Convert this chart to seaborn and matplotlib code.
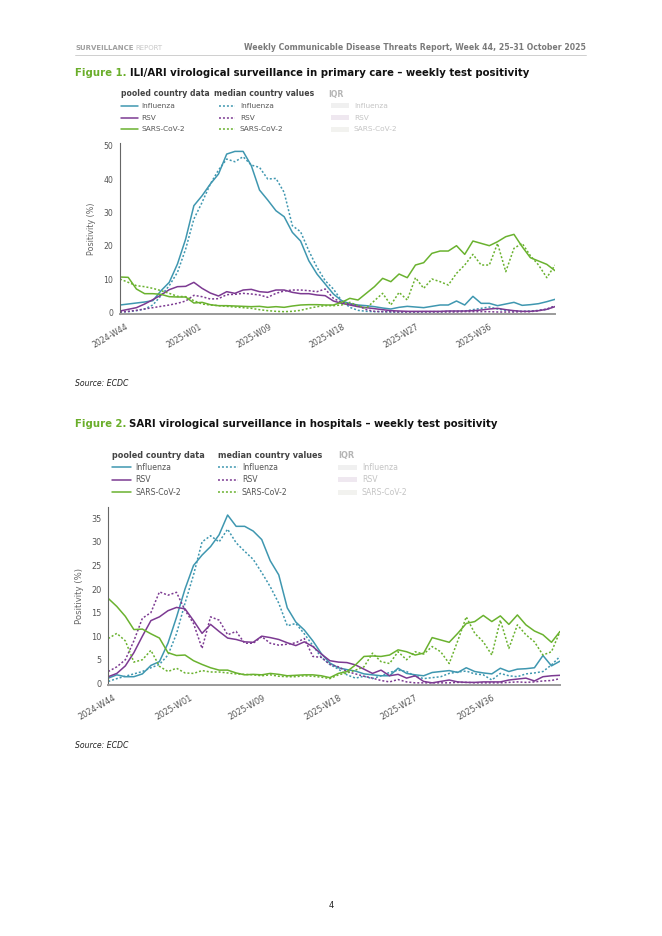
import numpy as np
import pandas as pd
import seaborn as sns
import matplotlib.pyplot as plt
from matplotlib.lines import Line2D
from matplotlib.patches import Rectangle

# --- page size (pixels) ---
W, H = 662, 936

# --- data: weekly test positivity (%), 54 weeks ---
tick_labels = ['2024-W44', '2025-W01', '2025-W09', '2025-W18', '2025-W27', '2025-W36']
tick_pos = [0.6, 9.6, 18.15, 27.0, 36.0, 45.0]
viruses = ['Influenza', 'RSV', 'SARS-CoV-2']

# Figure 1 - ILI/ARI, primary care
ili_flu_pooled = [2.2, 2.5, 2.8, 3.1, 3.5, 6.5, 9.0, 14.5, 22.0, 32.0,
                  35.0, 38.5, 41.5, 47.5, 48.3, 48.3, 44.0, 36.7, 33.7, 30.5,
                  28.7, 24.0, 21.4, 15.5, 11.5, 8.5, 5.5, 3.5, 2.6, 2.2,
                  2.0, 1.7, 1.3, 1.0, 1.5, 1.8, 1.6, 1.4, 1.8, 2.2,
                  2.2, 3.4, 2.2, 4.8, 2.7, 2.7, 2.0, 2.5, 3.0, 2.1,
                  2.3, 2.6, 3.2, 3.9]
ili_flu_median = [0.1, 0.2, 0.5, 1.0, 2.2, 5.0, 8.0, 12.0, 19.0, 28.0,
                  33.0, 38.5, 42.7, 46.0, 45.2, 46.7, 44.2, 43.5, 40.0, 40.2,
                  36.0, 26.0, 24.2, 18.5, 13.5, 9.5, 7.0, 3.5, 1.5, 0.6,
                  0.3, 0.2, 0.2, 0.1, 0.1, 0.2, 0.1, 0.2, 0.2, 0.2,
                  0.3, 0.3, 0.4, 0.8, 1.2, 1.6, 1.0, 0.6, 0.4, 0.3,
                  0.4, 0.6, 0.9, 1.9]
ili_rsv_pooled = [0.4, 0.9, 1.4, 2.5, 3.8, 5.2, 6.8, 7.7, 7.8, 9.0,
                  7.2, 5.8, 4.9, 6.2, 5.7, 6.7, 6.9, 6.2, 6.0, 6.7,
                  6.7, 6.0, 5.6, 5.6, 5.2, 5.0, 3.4, 2.7, 2.2, 1.7,
                  1.4, 1.1, 0.8, 0.5, 0.4, 0.3, 0.3, 0.3, 0.3, 0.3,
                  0.4, 0.4, 0.4, 0.5, 0.7, 1.0, 1.2, 0.8, 0.5, 0.3,
                  0.3, 0.5, 0.9, 1.7]
ili_rsv_median = [0.1, 0.3, 0.6, 1.0, 1.4, 1.8, 2.2, 2.7, 3.4, 5.1,
                  4.7, 4.0, 4.1, 5.3, 5.4, 5.7, 5.5, 5.2, 4.5, 5.7,
                  6.4, 6.7, 6.7, 6.5, 6.2, 7.0, 4.2, 3.0, 2.5, 2.0,
                  0.8, 0.3, 0.2, 0.2, 0.1, 0.1, 0.1, 0.1, 0.1, 0.1,
                  0.1, 0.1, 0.2, 0.2, 0.2, 0.2, 0.1, 0.1, 0.1, 0.2,
                  0.2, 0.5, 1.0, 1.9]
ili_cov_pooled = [10.6, 10.5, 7.0, 5.6, 5.6, 5.4, 4.7, 4.6, 4.6, 2.8,
                  3.0, 2.3, 2.0, 2.0, 1.9, 1.8, 1.7, 1.8, 1.5, 1.7,
                  1.5, 1.9, 2.2, 2.3, 2.3, 2.2, 2.2, 3.0, 4.2, 3.7,
                  5.7, 7.7, 10.2, 9.2, 11.5, 10.4, 14.2, 14.9, 17.7, 18.4,
                  18.4, 20.0, 17.4, 21.4, 20.7, 20.0, 21.2, 22.7, 23.4, 19.7,
                  16.4, 15.4, 14.4, 12.5]
ili_cov_median = [10.0, 9.0, 8.0, 7.7, 7.2, 6.5, 5.7, 4.8, 4.7, 3.5,
                  2.5, 2.2, 2.0, 1.8, 1.6, 1.4, 1.2, 0.8, 0.5, 0.3,
                  0.2, 0.3, 0.6, 1.2, 1.7, 2.0, 2.0, 2.2, 3.0, 2.0,
                  1.2, 3.5, 5.7, 2.2, 6.0, 3.7, 10.4, 7.2, 10.0, 9.2,
                  8.2, 11.7, 14.2, 17.4, 14.2, 14.2, 20.7, 12.2, 19.2, 20.7,
                  17.0, 14.2, 10.4, 14.2]

# Figure 2 - SARI, hospitals
sari_flu_pooled = [1.1, 1.8, 1.4, 1.4, 2.0, 3.8, 4.6, 8.5, 14.0, 20.0,
                   25.0, 27.2, 29.0, 31.5, 35.7, 33.3, 33.3, 32.3, 30.5, 26.0,
                   23.0, 16.0, 13.0, 11.3, 9.0, 6.3, 4.3, 3.3, 2.9, 2.6,
                   2.0, 1.8, 1.6, 1.6, 3.2, 2.1, 1.8, 1.6, 2.3, 2.5,
                   2.7, 2.3, 3.3, 2.5, 2.2, 2.0, 3.2, 2.5, 3.0, 3.1,
                   3.3, 5.9, 3.7, 4.7]
sari_flu_median = [0.4, 1.0, 1.5, 2.0, 2.5, 3.3, 4.0, 6.0, 10.5, 17.0,
                   23.0, 30.0, 31.3, 30.0, 32.7, 29.8, 28.0, 26.3, 23.5, 20.5,
                   17.0, 12.2, 12.7, 10.5, 8.0, 5.5, 4.0, 3.0, 1.8, 1.1,
                   1.5, 1.0, 1.6, 2.3, 2.8, 2.5, 1.5, 1.0, 1.2, 1.4,
                   2.1, 2.4, 2.6, 2.0, 1.8, 0.7, 2.1, 1.6, 1.4, 2.0,
                   2.2, 2.5, 3.9, 5.7]
sari_rsv_pooled = [1.4, 2.1, 3.7, 6.5, 10.0, 13.3, 14.1, 15.4, 16.1, 15.8,
                   13.3, 10.6, 12.5, 11.0, 9.6, 9.3, 8.8, 8.7, 10.0, 9.7,
                   9.3, 8.6, 8.0, 8.8, 7.8, 6.2, 4.8, 4.5, 4.4, 3.9,
                   3.0, 2.1, 2.8, 1.6, 1.9, 1.1, 1.6, 0.4, 0.1, 0.4,
                   0.7, 0.3, 0.2, 0.2, 0.3, 0.3, 0.3, 0.7, 0.9, 1.1,
                   0.5, 1.4, 1.6, 1.7]
sari_rsv_median = [2.5, 3.5, 5.0, 9.0, 13.8, 15.0, 19.4, 18.7, 19.3, 15.5,
                   12.7, 7.4, 14.1, 13.4, 10.3, 11.0, 8.5, 8.5, 9.9, 8.5,
                   8.1, 8.3, 8.6, 9.5, 5.7, 5.5, 4.0, 3.5, 2.5, 2.0,
                   1.5, 1.1, 0.6, 0.3, 0.8, 0.3, 0.1, 0.1, 0.1, 0.1,
                   0.1, 0.2, 0.2, 0.1, 0.1, 0.1, 0.1, 0.2, 0.3, 0.2,
                   0.3, 0.5, 0.6, 1.0]
sari_cov_pooled = [18.0, 16.3, 14.2, 11.4, 11.5, 10.5, 9.6, 6.5, 5.9, 6.0,
                   4.8, 4.0, 3.3, 2.8, 2.8, 2.2, 1.8, 1.9, 1.8, 2.1,
                   1.9, 1.6, 1.7, 1.8, 1.8, 1.6, 1.2, 2.1, 2.5, 3.9,
                   5.7, 5.8, 5.7, 6.0, 7.1, 6.7, 6.0, 6.4, 9.7, 9.2,
                   8.7, 10.6, 12.7, 13.1, 14.4, 13.1, 14.3, 12.5, 14.5, 12.4,
                   11.1, 10.3, 8.7, 11.0]
sari_cov_median = [9.5, 10.6, 9.0, 4.5, 5.0, 7.0, 3.6, 2.5, 3.2, 2.2,
                   2.1, 2.7, 2.4, 2.4, 2.2, 2.0, 1.9, 1.8, 1.6, 1.8,
                   1.5, 1.4, 1.4, 1.6, 1.5, 1.3, 1.0, 1.8, 2.2, 2.8,
                   3.5, 6.4, 4.6, 4.2, 6.7, 5.0, 6.7, 6.2, 7.8, 6.7,
                   4.2, 9.0, 14.1, 10.6, 8.8, 6.0, 13.4, 7.4, 12.4, 10.3,
                   8.8, 6.0, 6.7, 11.0]

colors = {'Influenza': '#3f97b0', 'RSV': '#7c3a92', 'SARS-CoV-2': '#6ab22f'}
iqr_colors = {'Influenza': '#f0f0f0', 'RSV': '#efe8f0', 'SARS-CoV-2': '#f2f2ef'}
green_title = '#6aae2a'


def long_table(pooled, median):
    frames = []
    for virus, p, m in zip(viruses, pooled, median):
        frames.append(pd.DataFrame({'week': np.arange(len(p)), 'value': p,
                                    'virus': virus, 'measure': 'pooled'}))
        frames.append(pd.DataFrame({'week': np.arange(len(m)), 'value': m,
                                    'virus': virus, 'measure': 'median'}))
    return pd.concat(frames, ignore_index=True)


df_ili = long_table([ili_flu_pooled, ili_rsv_pooled, ili_cov_pooled],
                    [ili_flu_median, ili_rsv_median, ili_cov_median])
df_sari = long_table([sari_flu_pooled, sari_rsv_pooled, sari_cov_pooled],
                     [sari_flu_median, sari_rsv_median, sari_cov_median])

sns.set_style('white')
plt.rcParams['font.family'] = ['DejaVu Sans']

fig = plt.figure(figsize=(W / 100, H / 100), dpi=100)
renderer = fig.canvas.get_renderer()


def fx(x):
    return x / W


def fy(y):
    return 1 - y / H


def add_axes(left, top, right, bottom):
    return fig.add_axes([fx(left), fy(bottom), (right - left) / W, (bottom - top) / H])


def chart(ax, data, ylim, yticks, ylabel_x, fs):
    sns.lineplot(data=data, x='week', y='value', hue='virus', style='measure',
                 palette=colors, dashes={'pooled': '', 'median': (1.3, 1.3)},
                 linewidth=1.1, estimator=None, sort=False, legend=False, ax=ax)
    ax.set_xlim(0, 53)
    ax.set_ylim(*ylim)
    ax.set_yticks(yticks)
    ax.set_xticks(tick_pos)
    ax.set_xticklabels(tick_labels, rotation=30, ha='right', va='top',
                       rotation_mode='anchor')
    ax.tick_params(axis='both', labelsize=fs, colors='#555555', length=3,
                   width=0.8, direction='out', pad=2)
    ax.tick_params(axis='x', pad=3)
    ax.set_xlabel('')
    ax.set_ylabel('')
    for s in ['top', 'right']:
        ax.spines[s].set_visible(False)
    ax.spines['left'].set_color('#666666')
    ax.spines['left'].set_linewidth(0.8)
    ax.spines['bottom'].set_color('#9a9a9a')
    ax.spines['bottom'].set_linewidth(1.4)
    ax.patch.set_alpha(0)
    bb = ax.get_position()
    fig.text(fx(ylabel_x), (bb.y0 + bb.y1) / 2, 'Positivity (%)', rotation=90,
             ha='center', va='center', fontsize=fs + 0.2, color='#666666')


def title(y, num, rest):
    t = fig.text(fx(75), fy(y), num, fontsize=7.3, fontweight='bold',
                 color=green_title, va='center')
    x1 = t.get_window_extent(renderer).x1
    fig.text(x1 / W + 3 / W, fy(y), rest, fontsize=7.3, fontweight='bold',
             color='#111111', va='center')


def legend(y0, dy, col1, col2, col3, hs, fs):
    # col = (header_x, line_x0, line_x1, text_x)
    fig.text(fx(col1[0]), fy(y0), 'pooled country data', fontsize=hs,
             fontweight='bold', color='#444444', va='center')
    fig.text(fx(col2[0]), fy(y0), 'median country values', fontsize=hs,
             fontweight='bold', color='#444444', va='center')
    fig.text(fx(col3[0]), fy(y0), 'IQR', fontsize=hs, fontweight='bold',
             color='#b5b5b5', va='center')
    for i, virus in enumerate(viruses):
        y = y0 + dy * (i + 1)
        fig.add_artist(Line2D([fx(col1[1]), fx(col1[2])], [fy(y), fy(y)],
                              transform=fig.transFigure, color=colors[virus], lw=1.1))
        fig.text(fx(col1[3]), fy(y), virus, fontsize=fs, color='#555555', va='center')
        fig.add_artist(Line2D([fx(col2[1]), fx(col2[2])], [fy(y), fy(y)],
                              transform=fig.transFigure, color=colors[virus], lw=1.1,
                              dashes=(1.3, 1.3)))
        fig.text(fx(col2[3]), fy(y), virus, fontsize=fs, color='#555555', va='center')
        fig.add_artist(Rectangle((fx(col3[1]), fy(y + 2.5)), (col3[2] - col3[1]) / W,
                                 5 / H, transform=fig.transFigure,
                                 color=iqr_colors[virus], lw=0))
        fig.text(fx(col3[3]), fy(y), virus, fontsize=fs, color='#c4c4c4', va='center')


# --- page header ---
t = fig.text(fx(75), fy(48), 'SURVEILLANCE', fontsize=5.0, fontweight='bold',
             color='#a0a0a0', va='center')
fig.text(t.get_window_extent(renderer).x1 / W + 2 / W, fy(48), 'REPORT', fontsize=5.0,
         color='#c8c8c8', va='center')
fig.text(fx(586), fy(48), 'Weekly Communicable Disease Threats Report, Week 44, 25\u201331 October 2025',
         fontsize=5.6, fontweight='bold', color='#7a7a7a', ha='right', va='center')
fig.add_artist(Line2D([fx(75), fx(586)], [fy(55), fy(55)], transform=fig.transFigure,
                      color='#c8c8c8', lw=0.6))

# --- Figure 1 ---
title(73, 'Figure 1.', 'ILI/ARI virological surveillance in primary care \u2013 weekly test positivity')
legend(94, 11.8, (121, 121, 138, 141), (214, 219, 235, 240), (328, 331, 349, 354), 5.6, 5.3)
ax1 = add_axes(120, 143.4, 555, 314)
chart(ax1, df_ili, (-0.5, 50.7), [0, 10, 20, 30, 40, 50], 92, 5.6)
fig.text(fx(75), fy(383), 'Source: ECDC', fontsize=5.6, style='italic',
         color='#222222', va='center')

# --- Figure 2 ---
title(424, 'Figure 2.', 'SARI virological surveillance in hospitals \u2013 weekly test positivity')
legend(455, 12.4, (112, 112, 131, 135), (218, 218, 238, 242), (338, 338, 357, 362), 5.9, 5.6)
ax2 = add_axes(108.3, 507, 560, 685.2)
chart(ax2, df_sari, (-0.4, 37.4), [0, 5, 10, 15, 20, 25, 30, 35], 80, 5.9)
fig.text(fx(75), fy(745), 'Source: ECDC', fontsize=5.6, style='italic',
         color='#222222', va='center')

# page number
fig.text(fx(331), fy(905), '4', fontsize=6, color='#222222', ha='center', va='center')

fig.savefig('out.png', dpi=100)
